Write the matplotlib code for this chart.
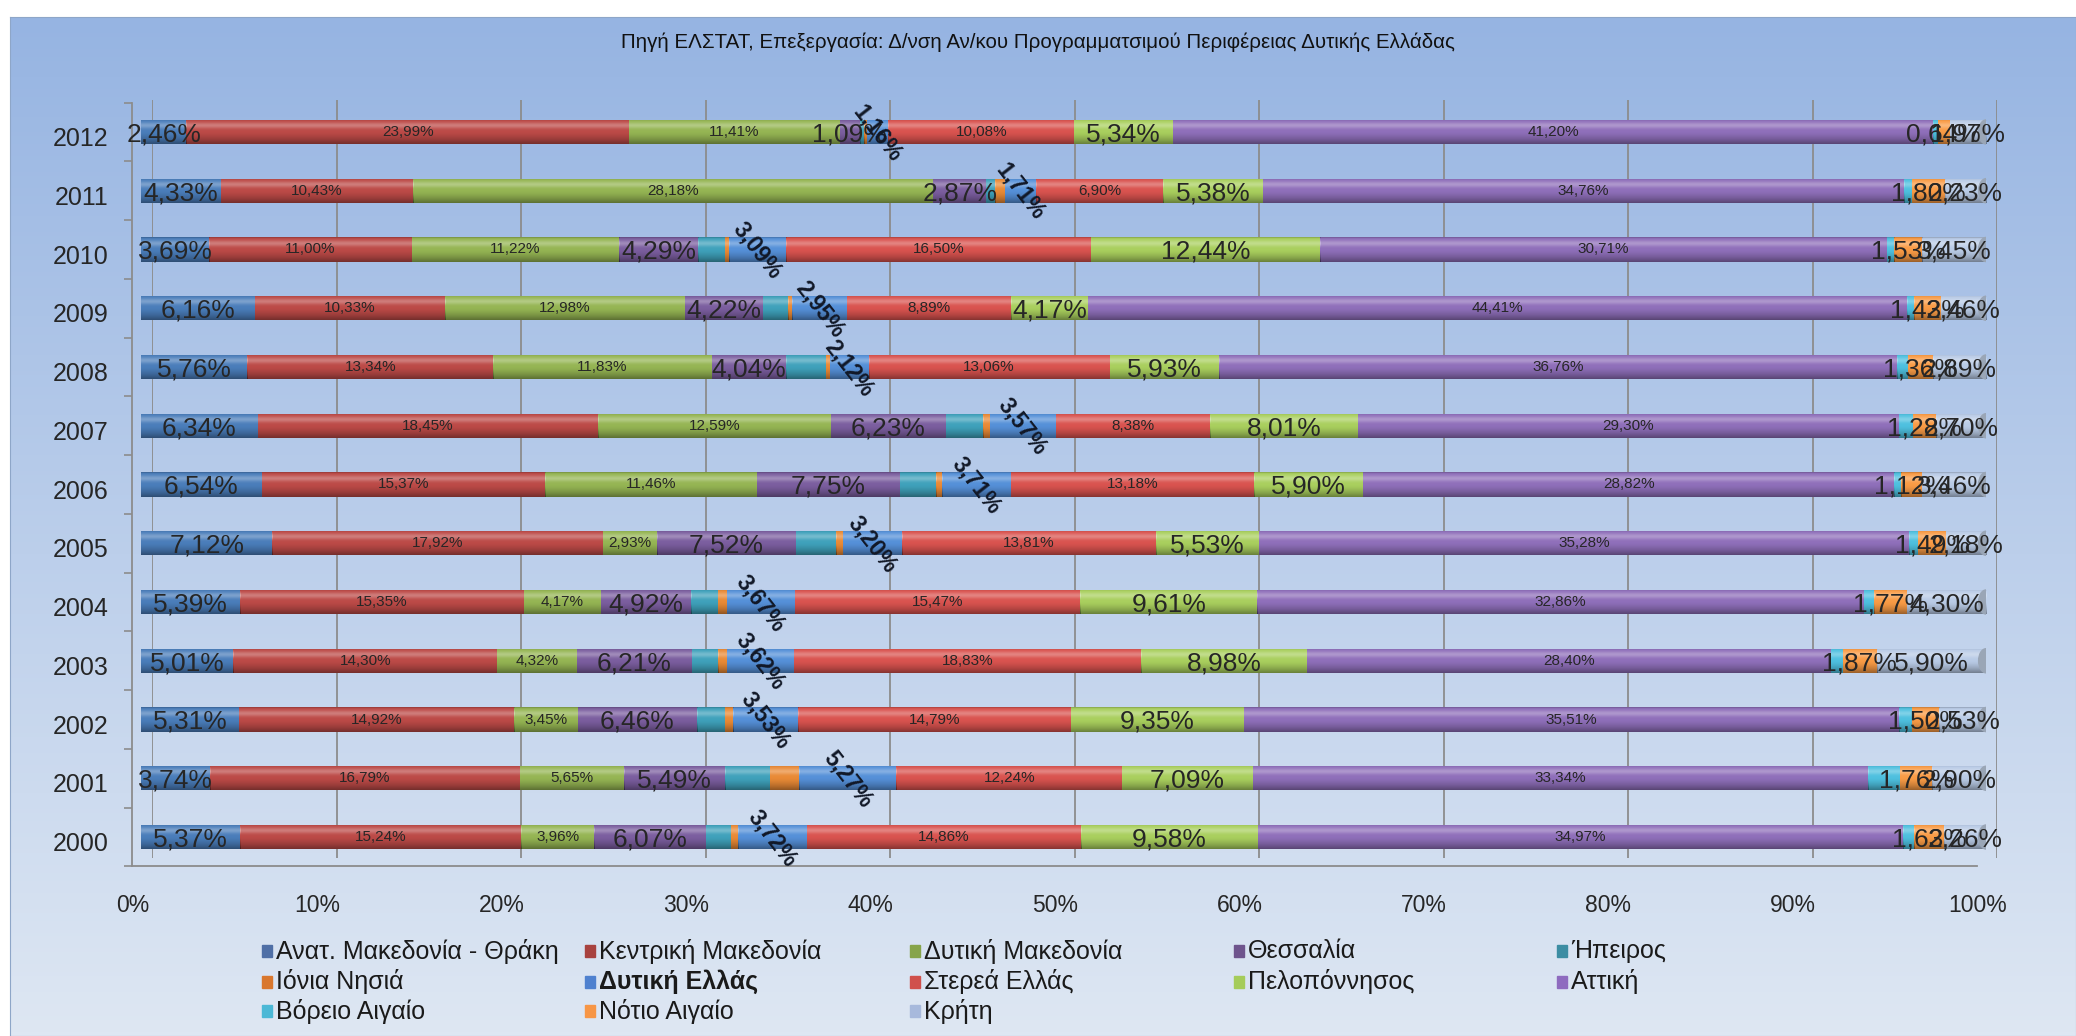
import numpy as np
import matplotlib
matplotlib.use("Agg")
import matplotlib.pyplot as plt
from matplotlib.patches import Rectangle, Ellipse

plt.rcParams['font.family'] = ['Liberation Sans', 'DejaVu Sans']

years = ['2000', '2001', '2002', '2003', '2004', '2005', '2006',
         '2007', '2008', '2009', '2010', '2011', '2012']

regions = ['Ανατ. Μακεδονία - Θράκη', 'Κεντρική Μακεδονία', 'Δυτική Μακεδονία',
           'Θεσσαλία', 'Ήπειρος', 'Ιόνια Νησιά', 'Δυτική Ελλάς', 'Στερεά Ελλάς',
           'Πελοπόννησος', 'Αττική', 'Βόρειο Αιγαίο', 'Νότιο Αιγαίο', 'Κρήτη']

# shares per year (2000 ... 2012), %
amth = [5.37, 3.74, 5.31, 5.01, 5.39, 7.12, 6.54, 6.34, 5.76, 6.16, 3.69, 4.33, 2.46]
kmak = [15.24, 16.79, 14.92, 14.30, 15.35, 17.92, 15.37, 18.45, 13.34, 10.33, 11.00, 10.43, 23.99]
dmak = [3.96, 5.65, 3.45, 4.32, 4.17, 2.93, 11.46, 12.59, 11.83, 12.98, 11.22, 28.18, 11.41]
thes = [6.07, 5.49, 6.46, 6.21, 4.92, 7.52, 7.75, 6.23, 4.04, 4.22, 4.29, 2.87, 1.09]
ipeiros = [1.33, 2.40, 1.50, 1.45, 1.45, 2.20, 1.98, 2.05, 2.15, 1.40, 1.45, 0.50, 0.25]
ionia = [0.40, 1.60, 0.45, 0.48, 0.48, 0.34, 0.33, 0.35, 0.20, 0.22, 0.23, 0.50, 0.15]
dell = [3.72, 5.27, 3.53, 3.62, 3.67, 3.20, 3.71, 3.57, 2.12, 2.95, 3.09, 1.71, 1.16]
sterea = [14.86, 12.24, 14.79, 18.83, 15.47, 13.81, 13.18, 8.38, 13.06, 8.89, 16.50, 6.90, 10.08]
pelop = [9.58, 7.09, 9.35, 8.98, 9.61, 5.53, 5.90, 8.01, 5.93, 4.17, 12.44, 5.38, 5.34]
attiki = [34.97, 33.34, 35.51, 28.40, 32.86, 35.28, 28.82, 29.30, 36.76, 44.41, 30.71, 34.76, 41.20]
vaig = [0.61, 1.73, 0.70, 0.63, 0.56, 0.48, 0.38, 0.75, 0.56, 0.38, 0.40, 0.41, 0.26]
naig = [1.63, 1.76, 1.50, 1.87, 1.77, 1.49, 1.12, 1.28, 1.36, 1.43, 1.53, 1.80, 0.64]
kriti = [2.26, 2.90, 2.53, 5.90, 4.30, 2.18, 3.46, 2.70, 2.89, 2.46, 3.45, 2.23, 1.97]

series = [amth, kmak, dmak, thes, ipeiros, ionia, dell, sterea, pelop, attiki, vaig, naig, kriti]
colors = ['#4A7DBA', '#BC4A47', '#95B553', '#7B5E9F', '#3FA1BB', '#E98A36', '#5590D8',
          '#D9534F', '#A9CF5E', '#8F6FBA', '#4EC0DF', '#F99B45', '#B9CBE6']
legend_colors = ['#4F6FA6', '#A8423F', '#86A44A', '#6E548D', '#3C8DA3', '#D9772E', '#4F81CF',
                 '#D0504C', '#A5CC5B', '#8E6BBF', '#4BB8D6', '#F79646', '#A7B9DC']
# label style: big / small / rot / None
styles = ['big', 'small', 'small', 'big', None, None, 'rot', 'small', 'big', 'small', None, 'big', 'big']

W, H = 2076, 1036
fig = plt.figure(figsize=(W / 100, H / 100), dpi=100)
fig.patch.set_facecolor('white')


def fx(px):
    return px / W


def fy(py):
    return 1 - py / H


# gradient background of the chart area
bg = fig.add_axes([fx(10), 0, 1 - fx(10), 1 - 17 / H], zorder=0)
g = np.linspace(0, 1, 256)[:, None, None]
c_top = np.array([0x96, 0xB4, 0xE2]) / 255
c_bot = np.array([0xDE, 0xE7, 0xF3]) / 255
bg.imshow(c_top * (1 - g) + c_bot * g, aspect='auto', extent=(0, 1, 0, 1))
bg.set_xticks([])
bg.set_yticks([])
for s in bg.spines.values():
    s.set_color('#8EA6C8')

row_top, row_bot = 102.6, 866.4
bar_l, bar_r = 141, 1986
bw = (bar_r - bar_l) / W
bh = (row_bot - row_top) / H

# back wall with gridlines
wall = fig.add_axes([fx(bar_l + 11), fy(858), bw, (858 - 100) / H], zorder=1)
wall.set_facecolor('none')
wall.set_xlim(0, 100)
wall.set_xticks(range(0, 101, 10))
wall.set_yticks([])
wall.grid(axis='x', color='#8C8C8C', lw=1.3)
wall.tick_params(length=0, labelbottom=False)
for s in wall.spines.values():
    s.set_visible(False)

# front axes carrying ticks and labels
front = fig.add_axes([fx(bar_l - 8.6), fy(row_bot), bw, bh], zorder=2)
front.set_facecolor('none')
front.set_xlim(0, 100)
front.set_ylim(-0.5, len(years) - 0.5)
front.set_xticks(range(0, 101, 10))
front.set_xticklabels([f'{t}%' for t in range(0, 101, 10)], fontsize=16.5, color='#262626')
front.set_yticks(np.arange(len(years)) - 0.08)
front.set_yticklabels(years, fontsize=18, color='#262626')
front.set_yticks(np.arange(-0.5, len(years), 1), minor=True)
front.tick_params(axis='both', which='major', length=0)
front.tick_params(axis='x', pad=20)
front.tick_params(axis='y', pad=17)
front.tick_params(axis='y', which='minor', length=6, color='#8C8C8C', width=1.2)
for k in ['top', 'right']:
    front.spines[k].set_visible(False)
for k in ['left', 'bottom']:
    front.spines[k].set_color('#8C8C8C')
    front.spines[k].set_linewidth(1.3)

# bars
ax = fig.add_axes([fx(bar_l), fy(row_bot), bw, bh], zorder=3)
ax.set_facecolor('none')
ax.axis('off')

y = np.arange(len(years))
data = np.array(series, dtype=float)
totals = data.sum(axis=0)
shares = data / totals * 100
left = np.zeros(len(years))
bar_h = 0.41

t = np.linspace(0, 1, 60)
s = (0.28 * np.exp(-((t - 0.25) / 0.12) ** 2)
     - 0.38 * np.clip((t - 0.5) / 0.5, 0, 1) ** 1.5
     - 0.2 * np.clip((0.07 - t) / 0.07, 0, 1))
shade = np.zeros((len(t), 1, 4))
shade[:, 0, :3] = np.where(s[:, None] > 0, 1.0, 0.0)
shade[:, 0, 3] = np.abs(s)

for i, vals in enumerate(shares):
    bars = ax.barh(y, vals, left=left, height=bar_h, color=colors[i], edgecolor='none')
    for b in bars:
        x0, y0 = b.get_x(), b.get_y()
        im = ax.imshow(shade, extent=(x0, x0 + b.get_width(), y0, y0 + b.get_height()),
                       aspect='auto', zorder=2.5)
        im.set_clip_path(b)
    st = styles[i]
    for j, v in enumerate(vals):
        if st is None:
            continue
        txt = f'{series[i][j]:.2f}%'.replace('.', ',')
        cx = left[j] + v / 2
        if st == 'big':
            ax.text(cx, y[j] - 0.04, txt, ha='center', va='center', fontsize=19,
                    color='#262626', zorder=5)
        elif st == 'small':
            ax.text(cx, y[j], txt, ha='center', va='center', fontsize=11,
                    color='#262626', zorder=5)
        else:
            ax.text(cx, y[j] - 0.02, txt, ha='center', va='center', fontsize=16.5,
                    fontweight='bold', rotation=-52, color='#111827', zorder=5)
    left += vals

# grey cylinder caps at the right end of every bar
for j in range(len(years)):
    ax.add_patch(Ellipse((left[j], y[j]), 0.8, bar_h, color='#9AA6B6', zorder=2.6))

ax.set_xlim(0, 100)
ax.set_ylim(-0.5, len(years) - 0.5)

# title
fig.text(0.5, fy(42), 'Πηγή ΕΛΣΤΑΤ, Επεξεργασία: Δ/νση Αν/κου Προγραμματσιμού Περιφέρειας Δυτικής Ελλάδας',
         ha='center', va='center', fontsize=14.8, color='#111111')

# legend, laid out row by row
col_x = [262, 585, 910, 1234, 1557]
row_y = [951, 982, 1011]
for k, name in enumerate(regions):
    r, c = divmod(k, 5)
    px, py = col_x[c], row_y[r]
    fig.add_artist(Rectangle((fx(px), fy(py + 6)), 10 / W, 12 / H,
                             transform=fig.transFigure, color=legend_colors[k], zorder=6))
    fig.text(fx(px + 14), fy(py), name, ha='left', va='center', fontsize=18,
             color='#1a1a1a', fontweight='bold' if name == 'Δυτική Ελλάς' else 'normal')

fig.savefig('out.png', dpi=100)
